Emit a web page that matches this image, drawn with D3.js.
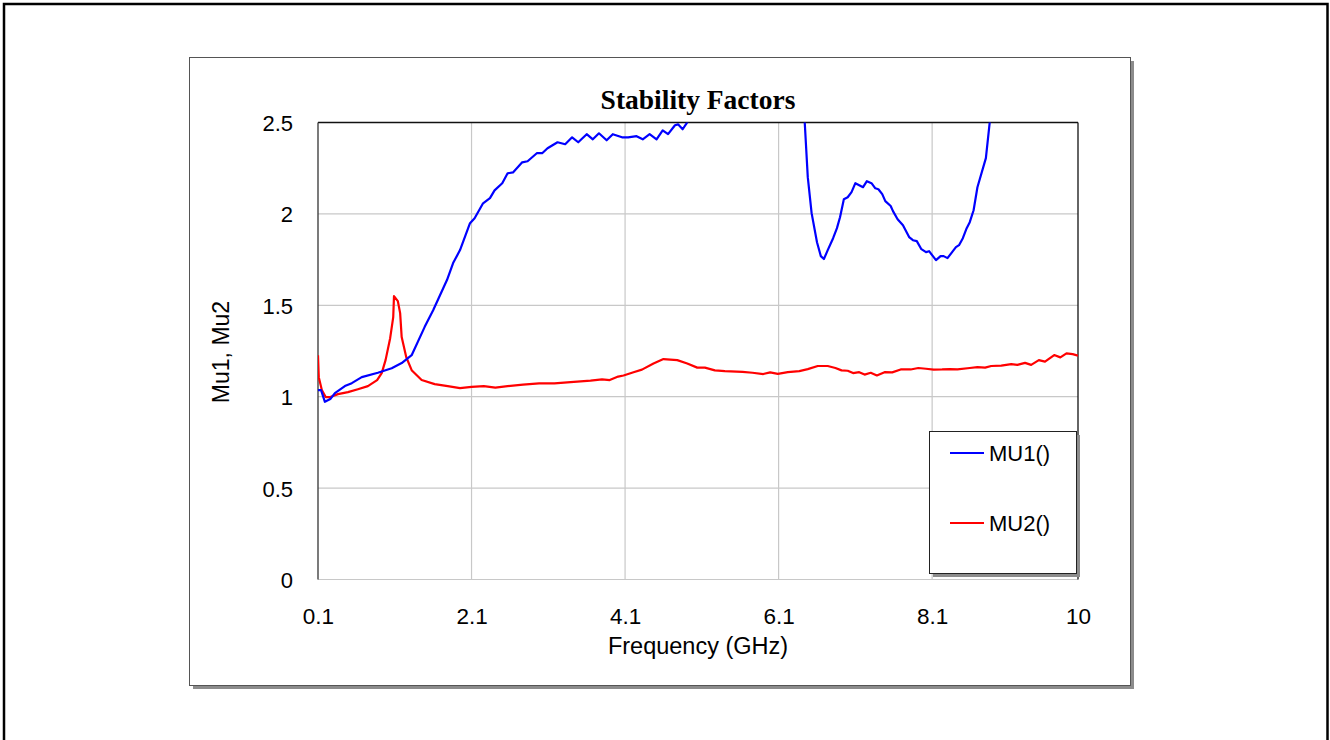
<!DOCTYPE html>
<html><head><meta charset="utf-8">
<script src="https://cdn.jsdelivr.net/npm/d3@7"></script>
<style>html,body{margin:0;padding:0;background:#fff;}svg{display:block;}</style>
</head><body>
<script>
const chartTitle = "Stability Factors";
const xLabel = "Frequency (GHz)";
const yLabel = "Mu1, Mu2";
const xTicks = [0.1, 2.1, 4.1, 6.1, 8.1, 10];
const yTicks = [0, 0.5, 1, 1.5, 2, 2.5];
const seriesNames = ["MU1()", "MU2()"];

const mu1Freq = [0.10,0.14,0.19,0.26,0.32,0.45,0.54,0.67,0.88,1.06,1.19,1.32,1.49,1.60,1.78,1.86,1.95,2.08,2.14,2.25,2.34,2.40,2.50,2.57,2.64,2.76,2.83,2.95,3.02,3.09,3.22,3.32,3.41,3.49,3.60,3.68,3.76,3.86,3.94,4.06,4.14,4.25,4.33,4.42,4.51,4.59,4.66,4.75,4.79,4.85,4.91,4.98,
  6.40,6.44,6.48,6.53,6.60,6.65,6.69,6.74,6.81,6.86,6.90,6.95,7.00,7.05,7.10,7.20,7.25,7.31,7.36,7.40,7.45,7.49,7.56,7.59,7.65,7.72,7.80,7.85,7.90,7.96,8.02,8.06,8.11,8.15,8.21,8.25,8.30,8.36,8.41,8.45,8.50,8.55,8.59,8.64,8.69,8.80,8.85,8.92];
const mu1Val = [1.036,1.036,0.972,0.987,1.020,1.058,1.074,1.107,1.131,1.156,1.184,1.227,1.382,1.473,1.638,1.731,1.802,1.949,1.976,2.058,2.086,2.129,2.168,2.222,2.227,2.282,2.288,2.332,2.332,2.359,2.392,2.381,2.419,2.392,2.436,2.408,2.441,2.403,2.436,2.419,2.419,2.425,2.408,2.436,2.408,2.457,2.436,2.485,2.490,2.463,2.501,2.58,
  2.60,2.503,2.201,2.004,1.845,1.769,1.753,1.802,1.867,1.922,1.982,2.080,2.091,2.119,2.168,2.146,2.179,2.168,2.140,2.135,2.108,2.070,2.043,2.015,1.971,1.938,1.873,1.856,1.851,1.807,1.791,1.796,1.769,1.747,1.769,1.769,1.758,1.791,1.818,1.829,1.867,1.922,1.955,2.020,2.146,2.305,2.501,2.70];

const mu2Freq = [0.10,0.11,0.15,0.20,0.26,0.36,0.49,0.62,0.75,0.87,0.93,0.98,1.04,1.08,1.09,1.14,1.17,1.19,1.25,1.32,1.45,1.62,1.79,1.95,2.10,2.26,2.41,2.57,2.77,2.98,3.18,3.39,3.65,3.80,3.90,4.01,4.08,4.21,4.32,4.47,4.60,4.78,4.91,5.04,5.14,5.27,5.40,5.63,5.76,5.90,5.99,6.09,6.22,6.37,6.48,6.61,6.74,6.84,6.92,7.00,7.07,7.15,7.22,7.30,7.38,7.48,7.58,7.69,7.82,7.92,8.02,8.12,8.23,8.33,8.43,8.59,8.69,8.79,8.87,9.00,9.13,9.21,9.31,9.39,9.49,9.57,9.69,9.77,9.85,9.93,10.0];
const mu2Val = [1.227,1.107,1.036,0.998,0.998,1.014,1.025,1.041,1.058,1.091,1.129,1.200,1.320,1.435,1.550,1.523,1.457,1.326,1.216,1.145,1.091,1.069,1.058,1.047,1.054,1.058,1.050,1.058,1.066,1.073,1.073,1.080,1.088,1.095,1.091,1.110,1.116,1.134,1.148,1.182,1.206,1.200,1.182,1.159,1.159,1.144,1.140,1.136,1.131,1.124,1.133,1.125,1.134,1.140,1.151,1.168,1.168,1.157,1.144,1.142,1.129,1.134,1.121,1.131,1.116,1.134,1.133,1.149,1.149,1.157,1.153,1.148,1.149,1.151,1.149,1.157,1.162,1.159,1.168,1.170,1.178,1.174,1.185,1.174,1.200,1.192,1.228,1.215,1.237,1.233,1.225];

const W = 1330, H = 740;
const svg = d3.select("body").append("svg").attr("width", W).attr("height", H);
const sans = "Liberation Sans, Arial, sans-serif";

// outer frame
svg.append("rect").attr("x", 4).attr("y", 4).attr("width", 1323.5).attr("height", 800)
  .attr("fill", "#fff").attr("stroke", "#000").attr("stroke-width", 2.5);

// panel with shadow
svg.append("rect").attr("x", 193).attr("y", 61).attr("width", 941).attr("height", 628).attr("fill", "#8c8c8c");
svg.append("rect").attr("x", 189.5).attr("y", 57.5).attr("width", 941).attr("height", 628)
  .attr("fill", "#fff").attr("stroke", "#555").attr("stroke-width", 1);

const L = 318, R = 1078, T = 122.5, B = 579.5;
const x = d3.scaleLinear().domain([0.1, 10]).range([L, R]);
const y = d3.scaleLinear().domain([0, 2.5]).range([B, T]);

// grid
const g = svg.append("g");
g.selectAll(".gx").data(xTicks.slice(1, -1)).join("line")
  .attr("x1", d => x(d)).attr("x2", d => x(d)).attr("y1", T).attr("y2", B)
  .attr("stroke", "#c8c8c8").attr("stroke-width", 1.2);
g.selectAll(".gy").data(yTicks.slice(1, -1)).join("line")
  .attr("y1", d => y(d)).attr("y2", d => y(d)).attr("x1", L).attr("x2", R)
  .attr("stroke", "#c8c8c8").attr("stroke-width", 1.2);

// axes (no tick marks, labels only)
const xAxis = d3.axisBottom(x).tickValues(xTicks).tickSize(0).tickPadding(0).tickFormat(d => d3.format("")(d));
const xa = svg.append("g").attr("transform", `translate(0,${B + 44})`).call(xAxis);
xa.select(".domain").remove();
xa.selectAll("text").attr("font-family", sans).attr("font-size", 22.5).attr("fill", "#000").attr("dy", 0);

const yAxis = d3.axisLeft(y).tickValues(yTicks).tickSize(0).tickPadding(0).tickFormat(d => d3.format("")(d));
const ya = svg.append("g").attr("transform", `translate(${L - 25},0)`).call(yAxis);
ya.select(".domain").remove();
ya.selectAll("text").attr("font-family", sans).attr("font-size", 22).attr("fill", "#000").attr("dy", "0.36em");

// frame
svg.append("line").attr("x1", L).attr("x2", R).attr("y1", B).attr("y2", B).attr("stroke", "#c8c8c8").attr("stroke-width", 1.2);
svg.append("line").attr("x1", L).attr("x2", R).attr("y1", T).attr("y2", T).attr("stroke", "#111").attr("stroke-width", 1.3);
svg.append("line").attr("x1", R).attr("x2", R).attr("y1", T).attr("y2", B).attr("stroke", "#111").attr("stroke-width", 1.3);
svg.append("line").attr("x1", L).attr("x2", L).attr("y1", T).attr("y2", B).attr("stroke", "#333").attr("stroke-width", 1.3);

// clip
svg.append("clipPath").attr("id", "clip").append("rect").attr("x", L).attr("y", T).attr("width", R - L).attr("height", B - T);

const line = d3.line().x(d => x(d[0])).y(d => y(d[1]));
const cg = svg.append("g").attr("clip-path", "url(#clip)");
cg.append("path").datum(mu2Freq.map((f, i) => [f, mu2Val[i]])).attr("d", line)
  .attr("fill", "none").attr("stroke", "#ff0000").attr("stroke-width", 2.2).attr("stroke-linejoin", "round");
cg.append("path").datum(mu1Freq.map((f, i) => [f, mu1Val[i]])).attr("d", line)
  .attr("fill", "none").attr("stroke", "#0000ff").attr("stroke-width", 2.2).attr("stroke-linejoin", "round");

// title
svg.append("text").attr("x", 698).attr("y", 109).attr("text-anchor", "middle")
  .attr("font-family", "Liberation Serif, Times New Roman, serif").attr("font-weight", "bold").attr("font-size", 27.5)
  .text(chartTitle);

// axis titles
svg.append("text").attr("x", 698).attr("y", 654).attr("text-anchor", "middle")
  .attr("font-family", sans).attr("font-size", 23.5).text(xLabel);
svg.append("text").attr("transform", "translate(229,352) rotate(-90)").attr("text-anchor", "middle")
  .attr("font-family", sans).attr("font-size", 23).text(yLabel);

// legend
const lg = svg.append("g");
lg.append("rect").attr("x", 933).attr("y", 435).attr("width", 147).attr("height", 142).attr("fill", "#8c8c8c");
lg.append("rect").attr("x", 929.5).attr("y", 431.5).attr("width", 147).attr("height", 142)
  .attr("fill", "#fff").attr("stroke", "#222").attr("stroke-width", 1);
const colors = ["#0000ff", "#ff0000"];
const ly = [453, 523];
seriesNames.forEach((n, i) => {
  lg.append("line").attr("x1", 950).attr("x2", 984).attr("y1", ly[i]).attr("y2", ly[i])
    .attr("stroke", colors[i]).attr("stroke-width", 2.2);
  lg.append("text").attr("x", 989).attr("y", ly[i]).attr("dy", "0.36em")
    .attr("font-family", sans).attr("font-size", 22).text(n);
});
</script>
</body></html>
